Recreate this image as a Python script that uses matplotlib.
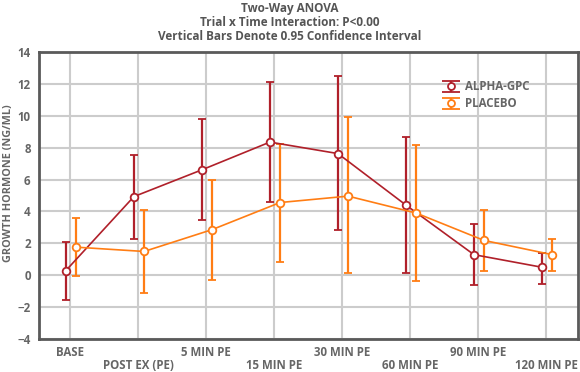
import matplotlib
matplotlib.use("Agg")
import matplotlib.pyplot as plt
import numpy as np

# timepoints on the x axis
timepoints = ["BASE", "POST EX (PE)", "5 MIN PE", "15 MIN PE",
              "30 MIN PE", "60 MIN PE", "90 MIN PE", "120 MIN PE"]

# group means and 95% CI bounds (ng/ml)
alpha_mean = [0.29, 4.93, 6.61, 8.35, 7.63, 4.40, 1.29, 0.50]
alpha_hi   = [2.09, 7.52, 9.78, 12.10, 12.52, 8.67, 3.22, 1.41]
alpha_lo   = [-1.58, 2.30, 3.48, 4.60, 2.82, 0.12, -0.60, -0.52]

placebo_mean = [1.76, 1.49, 2.86, 4.56, 4.96, 3.90, 2.18, 1.29]
placebo_hi   = [3.59, 4.10, 5.95, 8.25, 9.90, 8.15, 4.09, 2.26]
placebo_lo   = [-0.06, -1.12, -0.27, 0.81, 0.12, -0.37, 0.25, 0.25]

y_ticks = [-4, -2, 0, 2, 4, 6, 8, 10, 12, 14]

RED = "#b0202a"
ORANGE = "#ff7d14"
GREY = "#5a5a5a"
TXT = "#666666"

plt.rcParams["font.family"] = ["Open Sans", "DejaVu Sans"]

fig = plt.figure(figsize=(5.8, 3.72), dpi=100)
ax = fig.add_axes([39 / 580, 1 - 339 / 372, 539 / 580, 287 / 372])

x = np.arange(len(timepoints))


def draw_group(offset, mean, lo, hi, color, label):
    mean = np.array(mean)
    err = np.vstack([mean - np.array(lo), np.array(hi) - mean])
    ax.errorbar(x + offset, mean, yerr=err, color=color, lw=1.2,
                elinewidth=1.6, capsize=3.2, capthick=1.6,
                marker="o", ms=5.5, mfc="white", mec=color, mew=1.3,
                zorder=3)
    # legend proxy: no connecting line, wider caps like the original key
    proxy = ax.errorbar([0], [0], yerr=[[1], [1]], ls="none", color=color,
                        elinewidth=1.6, capsize=6.5, capthick=2.0,
                        marker="o", ms=5, mfc="white", mec=color, mew=1.3,
                        label=label)
    return proxy


h1 = draw_group(-0.06, alpha_mean, alpha_lo, alpha_hi, RED, "ALPHA-GPC")
h2 = draw_group(0.09, placebo_mean, placebo_lo, placebo_hi, ORANGE, "PLACEBO")

ax.set_xlim(-0.455, 7.47)
ax.set_ylim(-4, 14)
ax.set_yticks(y_ticks)
ax.set_xticks(x)
ax.set_xticklabels([t if i % 2 == 0 else "\n" + t for i, t in enumerate(timepoints)])

ax.grid(True, color="#cccccc", lw=1.5, zorder=0)
ax.set_axisbelow(True)
for sp in ax.spines.values():
    sp.set_color(GREY)
    sp.set_linewidth(2)

ax.tick_params(length=0, colors=TXT, labelsize=8.3)
ax.tick_params(axis="y", pad=6)
ax.tick_params(axis="x", pad=5)
for lab in ax.get_xticklabels() + ax.get_yticklabels():
    lab.set_fontweight("bold")
for lab in ax.get_xticklabels():
    lab.set_linespacing(1.0)

ax.set_ylabel("GROWTH HORMONE (NG/ML)", fontsize=7.8, fontweight="bold", color=TXT)
ax.yaxis.set_label_coords(-0.046, 0.543)

leg = ax.legend(handles=[h1, h2], loc="upper left",
                bbox_to_anchor=(433 / 580, 1 - 70 / 372),
                bbox_transform=fig.transFigure, frameon=False,
                handlelength=1.4, handletextpad=0.5, labelspacing=0.35,
                prop={"weight": "bold", "size": 8.3})
for t in leg.get_texts():
    t.set_color(TXT)
h1.remove()
h2.remove()

fig.text(0.5, 1 - 2 / 372,
         "Two-Way ANOVA\nTrial x Time Interaction: P<0.00\n"
         "Vertical Bars Denote 0.95 Confidence Interval",
         ha="center", va="top", fontsize=8.5, fontweight="bold",
         color="#555555", linespacing=1.1)

fig.savefig("out.png", dpi=100)
